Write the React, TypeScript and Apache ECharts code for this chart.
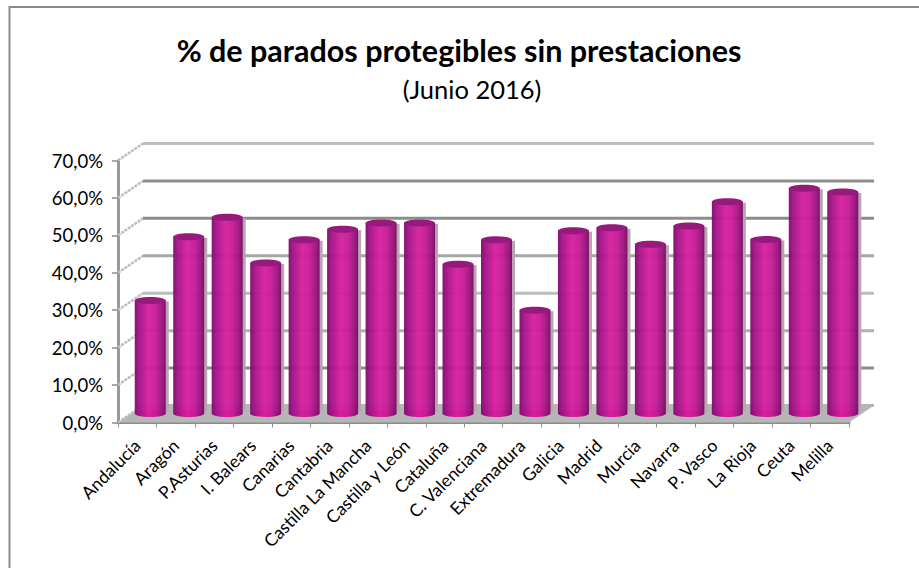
import React, { useEffect, useRef } from "react";
import * as echarts from "echarts";

const categories = ["Andalucía", "Aragón", "P.Asturias", "I. Balears", "Canarias", "Cantabria", "Castilla La Mancha", "Castilla y León", "Cataluña", "C. Valenciana", "Extremadura", "Galicia", "Madrid", "Murcia", "Navarra", "P. Vasco", "La Rioja", "Ceuta", "Melilla"];
const values = [30.2, 47.2, 52.4, 40.2, 46.4, 49.2, 50.9, 50.9, 39.9, 46.4, 27.6, 48.8, 49.6, 45.2, 50.1, 56.6, 46.5, 60.2, 59.2];
const ticks = [0, 10, 20, 30, 40, 50, 60, 70];
const gridColors = ["#b6b6b6", "#8c8c8c", "#b0b0b0", "#bcbcbc", "#a6a6a6", "#8c8c8c", "#8c8c8c", "#bdbdbd"];

const FRONT = { left: 118, right: 849, top: 160.5, bottom: 422.5 };
const DEPTH = { x: 25, y: -17 };
const fmt = (v: number) => v.toFixed(1).replace(".", ",") + "%";

function grid(dx: number, dy: number) {
  return {
    left: FRONT.left + dx,
    width: FRONT.right - FRONT.left,
    top: FRONT.top + dy,
    height: FRONT.bottom - FRONT.top,
    containLabel: false,
  };
}

const hiddenX = (gridIndex: number) => ({
  type: "category" as const, gridIndex, data: categories, show: false,
});
const hiddenY = (gridIndex: number) => ({
  type: "value" as const, gridIndex, min: 0, max: 70, interval: 10, show: false,
});

export default function App() {
  const ref = useRef<HTMLDivElement>(null);
  useEffect(() => {
    document.body.style.margin = "0";
    const chart = echarts.init(ref.current!, undefined, { renderer: "svg" });
    const fontFamily = "Lato, Carlito, 'Open Sans', sans-serif";
    const backSpan = () => [FRONT.left + DEPTH.x, FRONT.right + DEPTH.x];
    chart.setOption({
      animation: false,
      backgroundColor: "#ffffff",
      title: [
        { text: "% de parados protegibles sin prestaciones", left: 454, top: 29, textAlign: "center",
          textStyle: { fontFamily, fontSize: 30.5, fontWeight: "bold", color: "#000" } },
        { text: "(Junio 2016)", left: 467, top: 71, textAlign: "center",
          textStyle: { fontFamily, fontSize: 25.5, fontWeight: "normal", color: "#000" } },
      ],
      grid: [grid(0, 0), grid(DEPTH.x, DEPTH.y), grid(DEPTH.x / 2 + 0.5, DEPTH.y / 2 - 0.5)],
      xAxis: [
        {
          type: "category", gridIndex: 0, data: categories,
          axisLine: { show: true, lineStyle: { color: "#8c8c8c", width: 3 } },
          axisTick: { show: true, alignWithLabel: false, length: 5, lineStyle: { color: "#8c8c8c", width: 1 } },
          axisLabel: { interval: 0, rotate: 45, fontFamily, fontSize: 17.5, color: "#000", margin: 20 },
        },
        hiddenX(1),
        hiddenX(2),
      ],
      yAxis: [
        {
          type: "value", gridIndex: 0, min: 0, max: 70, interval: 10,
          axisLine: { show: true, lineStyle: { color: "#999999", width: 3 } },
          axisTick: { show: true, length: 6, lineStyle: { color: "#8c8c8c", width: 1.5 } },
          axisLabel: { formatter: fmt, fontFamily, fontSize: 18.5, color: "#000", margin: 15 },
          splitLine: { show: false },
        },
        hiddenY(1),
        hiddenY(2),
      ],
      series: [
        {
          type: "custom", xAxisIndex: 0, yAxisIndex: 0, silent: true, z: 1,
          data: ticks,
          renderItem: (_p: any, api: any) => {
            const v = api.value(0);
            const y = api.coord([0, v])[1];
            const items: any[] = [{
              type: "line",
              shape: { x1: FRONT.left, y1: y, x2: FRONT.left + DEPTH.x, y2: y + DEPTH.y },
              style: { stroke: "#bdbdbd", lineWidth: 2.5, lineDash: [3, 1] },
            }];
            if (v === 0) {
              items.unshift({
                type: "polygon",
                shape: { points: [
                  [FRONT.left, y], [FRONT.right, y],
                  [FRONT.right + DEPTH.x, y + DEPTH.y], [FRONT.left + DEPTH.x, y + DEPTH.y],
                ] },
                style: { fill: "#b6b6b6" },
              });
            }
            return { type: "group", children: items };
          },
          encode: { y: 0 },
        },
        {
          type: "custom", xAxisIndex: 1, yAxisIndex: 1, silent: true, z: 2,
          data: ticks,
          renderItem: (_p: any, api: any) => {
            const v = api.value(0);
            const y = api.coord([0, v])[1];
            const [a, b] = backSpan();
            return {
              type: "line",
              shape: { x1: a, y1: y, x2: b, y2: y },
              style: { stroke: gridColors[ticks.indexOf(v)], lineWidth: 3 },
            };
          },
          encode: { y: 0 },
        },
        {
          type: "custom", xAxisIndex: 2, yAxisIndex: 2, silent: true, z: 3,
          data: values.map((v, i) => [i, v]),
          renderItem: (_p: any, api: any) => {
            const top = api.coord([api.value(0), api.value(1)]);
            const base = api.coord([api.value(0), 0]);
            const w = 31;
            const ry = 3.5;
            const x = top[0] - w / 2;
            const gradient = new echarts.graphic.LinearGradient(0, 0, 1, 0, [
              { offset: 0, color: "#7f0c68" },
              { offset: 0.14, color: "#a3138a" },
              { offset: 0.45, color: "#d8209e" },
              { offset: 0.68, color: "#c71c98" },
              { offset: 0.88, color: "#9c147e" },
              { offset: 1, color: "#780b60" },
            ]);
            return {
              type: "group",
              children: [
                { type: "rect", shape: { x: x + w - 1, y: top[1] + 1, width: 4, height: base[1] - top[1] - 3 },
                  style: { fill: "#b9a3b4" } },
                { type: "rect", shape: { x, y: top[1], width: w, height: base[1] - top[1] },
                  style: { fill: gradient, opacity: 0.96 } },
                { type: "ellipse", shape: { cx: top[0], cy: base[1], rx: w / 2, ry },
                  style: { fill: gradient } },
                { type: "ellipse", shape: { cx: top[0], cy: top[1], rx: w / 2, ry },
                  style: { fill: "#961a7c" } },
              ],
            };
          },
          encode: { x: 0, y: 1 },
        },
      ],
      graphic: [
        { type: "polyline", z: 10,
          shape: { points: [[9.5, 568], [9.5, 7], [919, 7]] },
          style: { stroke: "#8c8c8c", lineWidth: 2, fill: "none" } },
      ],
    });
    return () => chart.dispose();
  }, []);
  return <div ref={ref} style={{ width: 919, height: 568 }} />;
}
